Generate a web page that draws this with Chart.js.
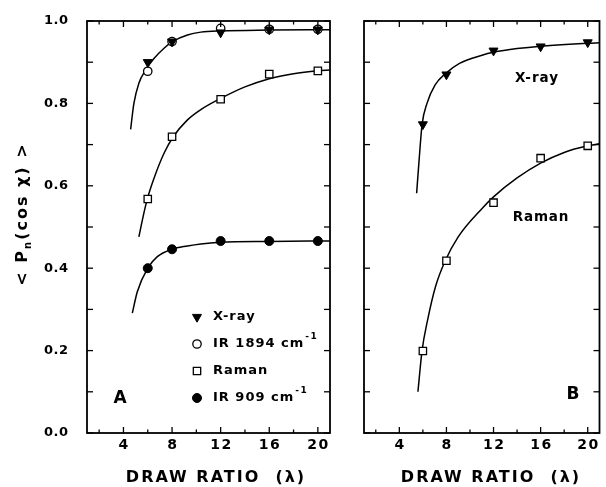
<!DOCTYPE html>
<html><head><meta charset="utf-8">
<script src="https://cdn.jsdelivr.net/npm/chart.js@4/dist/chart.umd.min.js"></script>
<style>
html,body{margin:0;padding:0;background:#fff;width:606px;height:487px;overflow:hidden}
#wa{position:absolute;left:0;top:0;width:340px;height:487px}
#wb{position:absolute;left:340px;top:0;width:266px;height:487px}
</style></head><body>
<div id="wa"><canvas id="ca"></canvas></div>
<div id="wb"><canvas id="cb"></canvas></div>
<script>
// ---- data ----
const drawRatios = [6, 8, 12, 16, 20];
const xrayA   = [0.900, 0.950, 0.972, 0.979, 0.979];
const ir1894A = [0.878, 0.950, 0.982, 0.980, 0.980];
const ramanA  = [0.568, 0.719, 0.810, 0.871, 0.879];
const ir909A  = [0.400, 0.446, 0.466, 0.466, 0.466];
const xrayB   = [0.749, 0.870, 0.928, 0.938, 0.948];
const ramanB  = [0.199, 0.418, 0.559, 0.667, 0.697];

// fitted curves
const fitTopAx   = [4.59, 4.86, 5.27, 5.83, 6.51, 7.34, 8.03, 9.27, 10.37, 12, 16, 21];
const fitTopAy   = [0.737, 0.800, 0.849, 0.881, 0.909, 0.934, 0.950, 0.966, 0.973, 0.976, 0.978, 0.979];
const fitRamanAx = [5.27, 5.69, 6.0, 6.51, 7.34, 8.1, 9.27, 10.37, 12, 14, 16, 18, 20, 21];
const fitRamanAy = [0.476, 0.535, 0.572, 0.618, 0.679, 0.719, 0.760, 0.785, 0.812, 0.840, 0.860, 0.872, 0.879, 0.881];
const fit909Ax   = [4.73, 5.14, 6.0, 6.79, 8.0, 9.27, 10.37, 12, 16, 21];
const fit909Ay   = [0.291, 0.343, 0.400, 0.428, 0.446, 0.454, 0.459, 0.463, 0.465, 0.466];
const fitXrayBx  = [5.47, 5.66, 5.93, 6.35, 7.04, 7.95, 9.11, 11.03, 12, 14, 16, 20, 21];
const fitXrayBy  = [0.582, 0.655, 0.748, 0.800, 0.845, 0.873, 0.897, 0.917, 0.924, 0.933, 0.939, 0.946, 0.947];
const fitRamanBx = [5.58, 5.93, 6.4, 7.07, 7.9, 9.0, 11.03, 12, 14, 16, 18, 20, 21];
const fitRamanBy = [0.100, 0.200, 0.274, 0.355, 0.418, 0.476, 0.545, 0.573, 0.619, 0.655, 0.681, 0.697, 0.702];

const xTickValues  = [4, 8, 12, 16, 20];
const xMinorValues = [2, 6, 10, 14, 18];
const yTickValues  = [0, 0.2, 0.4, 0.6, 0.8, 1.0];
const yMinorValues = [0.1, 0.3, 0.5, 0.7, 0.9];
const legendLabels = ['X-ray', 'IR 1894 cm', 'Raman', 'IR 909 cm'];
const legendSupers = ['', '-1', '', '-1'];
const xTitle = 'DRAW RATIO  (λ)';
const yTitleParts = ['< P', 'n', '(cos χ) >'];

// ---- styles ----
const FONT = "'DejaVu Sans', sans-serif";
const M = {
  xray:  {ps: 'triangle', rot: 180, r: 5.2, bg: '#000', bw: 1},
  ir1894:{ps: 'circle', rot: 0, r: 4.2, bg: '#fff', bw: 1.3},
  raman: {ps: 'rect', rot: 0, r: 5.2, bg: '#fff', bw: 1.3},
  ir909: {ps: 'circle', rot: 0, r: 4.5, bg: '#000', bw: 1}
};
const pts = (xs, ys) => xs.map((x, i) => ({x, y: ys[i]}));
function markerSet(label, xs, ys, m, order) {
  return {type: 'scatter', label, data: pts(xs, ys), showLine: false, order,
    pointStyle: m.ps, rotation: m.rot, pointRadius: m.r, pointHoverRadius: m.r,
    pointBackgroundColor: m.bg, pointBorderColor: '#000', pointBorderWidth: m.bw};
}
function curveSet(xs, ys) {
  return {type: 'line', data: pts(xs, ys), borderColor: '#000', borderWidth: 1.5,
    pointRadius: 0, fill: false, cubicInterpolationMode: 'monotone', order: 10};
}

function drawMarker(ctx, m, x, y) {
  ctx.save();
  ctx.fillStyle = m.bg; ctx.strokeStyle = '#000'; ctx.lineWidth = m.bw;
  ctx.beginPath();
  if (m.ps === 'circle') { ctx.arc(x, y, m.r, 0, Math.PI * 2); }
  else if (m.ps === 'rect') { const s = Math.SQRT1_2 * m.r; ctx.rect(x - s, y - s, 2 * s, 2 * s); }
  else { const r = m.r; ctx.moveTo(x, y + r); ctx.lineTo(x - r * 0.866, y - r / 2); ctx.lineTo(x + r * 0.866, y - r / 2); ctx.closePath(); }
  ctx.fill(); ctx.stroke();
  ctx.restore();
}

const frameTicks = {
  id: 'frameTicks',
  afterDraw(chart) {
    const {ctx, chartArea: a, scales: {x, y}} = chart;
    ctx.save();
    ctx.strokeStyle = '#000';
    ctx.lineWidth = 1.3;
    const seg = (x1, y1, x2, y2) => { ctx.beginPath(); ctx.moveTo(x1, y1); ctx.lineTo(x2, y2); ctx.stroke(); };
    const doX = (vals, len) => vals.forEach(v => { const p = x.getPixelForValue(v);
      seg(p, a.bottom, p, a.bottom - len); seg(p, a.top, p, a.top + len); });
    const doY = (vals, len) => vals.forEach(v => { const p = y.getPixelForValue(v);
      seg(a.left, p, a.left + len, p); seg(a.right, p, a.right - len, p); });
    doX(xTickValues, 6); doX(xMinorValues, 3.5);
    doY(yTickValues, 6); doY(yMinorValues, 6);
    ctx.lineWidth = 1.8;
    ctx.strokeRect(a.left, a.top, a.right - a.left, a.bottom - a.top);
    ctx.restore();
  }
};

function textPlugin(cfg) {
  return {
    id: 'texts',
    afterDraw(chart) {
      const {ctx, chartArea: a, scales: {x, y}} = chart;
      ctx.save();
      ctx.fillStyle = '#000';
      ctx.textBaseline = 'middle';
      // x tick labels
      ctx.font = 'bold 14px ' + FONT; ctx.letterSpacing = '1.5px'; ctx.textAlign = 'center';
      xTickValues.forEach(v => ctx.fillText(String(v), x.getPixelForValue(v) + 0.75, a.bottom + 12));
      // x title
      ctx.font = 'bold 16px ' + FONT; ctx.letterSpacing = '2px';
      ctx.fillText(xTitle, a.left + cfg.xTitleDx, a.bottom + 45);
      if (cfg.showY) {
        ctx.font = 'bold 13px ' + FONT; ctx.letterSpacing = '0.5px'; ctx.textAlign = 'right';
        yTickValues.forEach(v => ctx.fillText(v.toFixed(1), a.left - 18.5, y.getPixelForValue(v)));
        // y title, rotated, with subscript
        ctx.save();
        ctx.translate(23, 214); ctx.rotate(-Math.PI / 2);
        ctx.textAlign = 'left'; ctx.letterSpacing = '2px';
        const fonts = ['bold 16px ' + FONT, 'bold 10px ' + FONT, 'bold 16px ' + FONT];
        const offs = [0, 5, 0];
        let total = 0;
        const widths = yTitleParts.map((t, i) => { ctx.font = fonts[i]; const w = ctx.measureText(t).width; total += w; return w; });
        let px = -total / 2;
        yTitleParts.forEach((t, i) => { ctx.font = fonts[i]; ctx.fillText(t, px, offs[i]); px += widths[i]; });
        ctx.restore();
      }
      // free labels
      ctx.textAlign = 'center';
      cfg.items.forEach(t => {
        ctx.font = t.font; ctx.letterSpacing = t.ls || '0px';
        ctx.fillText(t.text, a.left + t.dx, a.top + t.dy);
      });
      if (cfg.legend) {
        ctx.textAlign = 'left';
        cfg.legend.forEach((l, i) => {
          const yy = a.top + 296 + i * 27;
          drawMarker(ctx, l.m, a.left + 110, yy);
          ctx.font = 'bold 13px ' + FONT; ctx.letterSpacing = '1px';
          ctx.fillText(l.text, a.left + 126, yy);
          if (l.sup) {
            const w = ctx.measureText(l.text).width;
            ctx.font = 'bold 9px ' + FONT; ctx.letterSpacing = '1.5px';
            ctx.fillText(l.sup, a.left + 126 + w + 1, yy - 7);
          }
        });
      }
      ctx.restore();
    }
  };
}

function scalesFor(yWidth) {
  return {
    x: {type: 'linear', min: 1, max: 21,
      afterBuildTicks: s => { s.ticks = xTickValues.map(v => ({value: v})); },
      afterFit: s => { s.height = 54; },
      grid: {display: false}, border: {display: false}, ticks: {display: false}
    },
    y: {type: 'linear', min: 0, max: 1,
      afterBuildTicks: s => { s.ticks = yTickValues.map(v => ({value: v})); },
      afterFit: s => { s.width = yWidth; },
      grid: {display: false}, border: {display: false}, ticks: {display: false}
    }
  };
}

const common = {
  responsive: true, maintainAspectRatio: false, animation: false, devicePixelRatio: 1,
  events: [],
  plugins: {legend: {display: false}, tooltip: {enabled: false}}
};

new Chart(document.getElementById('ca'), {
  type: 'scatter',
  data: {datasets: [
    markerSet('X-ray', drawRatios, xrayA, M.xray, 1),
    markerSet('IR 1894 cm-1', drawRatios, ir1894A, M.ir1894, 2),
    markerSet('Raman', drawRatios, ramanA, M.raman, 2),
    markerSet('IR 909 cm-1', drawRatios, ir909A, M.ir909, 2),
    curveSet(fitTopAx, fitTopAy), curveSet(fitRamanAx, fitRamanAy), curveSet(fit909Ax, fit909Ay)
  ]},
  options: Object.assign({}, common, {
    layout: {padding: {top: 21, right: 10, left: 0, bottom: 0}},
    scales: scalesFor(87)
  }),
  plugins: [frameTicks, textPlugin({
    showY: true, xTitleDx: 129,
    items: [{text: 'A', dx: 33, dy: 378, font: 'bold 17px ' + FONT}],
    legend: [{m: M.xray, text: legendLabels[0], sup: legendSupers[0]},
             {m: M.ir1894, text: legendLabels[1], sup: legendSupers[1]},
             {m: M.raman, text: legendLabels[2], sup: legendSupers[2]},
             {m: M.ir909, text: legendLabels[3], sup: legendSupers[3]}]
  })]
});

new Chart(document.getElementById('cb'), {
  type: 'scatter',
  data: {datasets: [
    markerSet('X-ray', drawRatios, xrayB, M.xray, 1),
    markerSet('Raman', drawRatios, ramanB, M.raman, 2),
    curveSet(fitXrayBx, fitXrayBy), curveSet(fitRamanBx, fitRamanBy)
  ]},
  options: Object.assign({}, common, {
    layout: {padding: {top: 21, right: 1, left: 0, bottom: 0}},
    scales: scalesFor(24)
  }),
  plugins: [frameTicks, textPlugin({
    showY: false, xTitleDx: 127,
    items: [
      {text: 'X-ray', dx: 173, dy: 57, font: 'bold 13.5px ' + FONT, ls: '1px'},
      {text: 'Raman', dx: 177, dy: 196, font: 'bold 13.5px ' + FONT, ls: '0.8px'},
      {text: 'B', dx: 209, dy: 374, font: 'bold 17px ' + FONT}
    ],
    legend: null
  })]
});
</script>
</body></html>
